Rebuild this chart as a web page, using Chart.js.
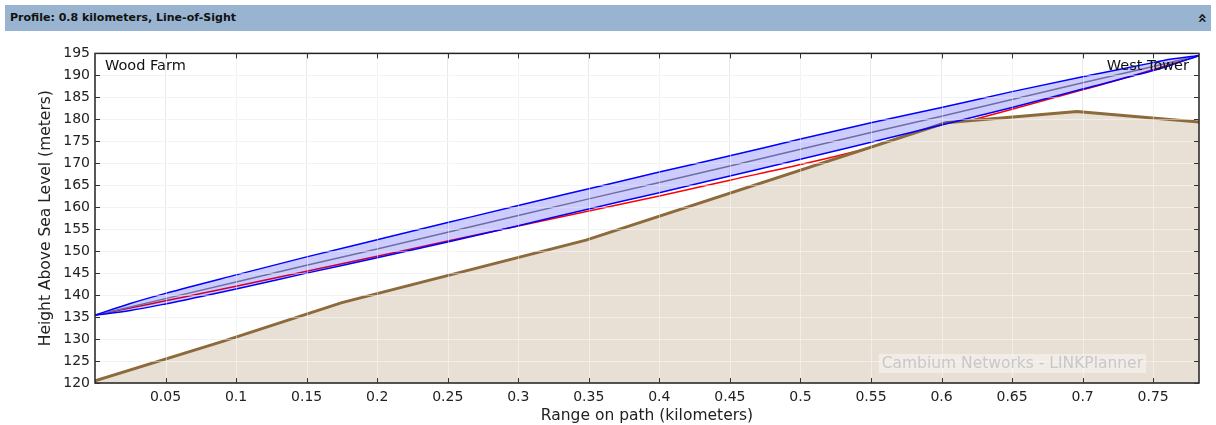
<!DOCTYPE html>
<html>
<head>
<meta charset="utf-8">
<script src="https://cdn.jsdelivr.net/npm/chart.js@4.4.1/dist/chart.umd.min.js"></script>
<style>
  html, body { margin: 0; padding: 0; background: #fff; }
  body { width: 1216px; height: 425px; position: relative; overflow: hidden; font-family: "DejaVu Sans", sans-serif; }
  #header {
    position: absolute; left: 5px; top: 5px; width: 1206px; height: 26px;
    background: #98b4d0; color: #111;
    font: bold 11px "DejaVu Sans", sans-serif; line-height: 26px;
  }
  #header .title { position: absolute; left: 5px; top: 0; }
  #header .toggle { position: absolute; right: 4px; top: 0; font-size: 16px; transform: rotate(-90deg); }
  #wrap { position: absolute; left: 0; top: 40px; width: 1216px; height: 385px; }
</style>
</head>
<body>
<div id="header"><span class="title">Profile: 0.8 kilometers, Line-of-Sight</span><span class="toggle">»</span></div>
<div id="wrap"><canvas id="profile"></canvas></div>
<script>
// range along the path (km) shared by the LOS / fresnel / curvature series
const distances = [0, 0.025, 0.05, 0.1, 0.15, 0.2, 0.25, 0.3, 0.35, 0.4, 0.45, 0.5, 0.55, 0.6, 0.65, 0.7, 0.75, 0.7575, 0.7825];
const lineOfSight = [135.45, 137.3, 139.2, 143.0, 146.8, 150.5, 154.3, 158.1, 161.9, 165.6, 169.4, 173.2, 177.0, 180.7, 184.5, 188.3, 192.0, 192.6, 194.5];
const fresnelUpper = [135.45, 138.1, 140.4, 144.6, 148.7, 152.6, 156.5, 160.4, 164.2, 168.0, 171.7, 175.5, 179.2, 182.7, 186.3, 189.7, 192.9, 193.4, 194.5];
const fresnelLower = [135.45, 136.5, 138.0, 141.4, 145.0, 148.5, 152.1, 155.8, 159.6, 163.3, 167.1, 170.9, 174.8, 178.7, 182.7, 186.9, 191.1, 191.8, 194.5];
const curvedPath = [135.45, 137.05, 138.7, 142.0, 145.45, 148.85, 152.3, 155.7, 159.15, 162.55, 166.15, 169.7, 173.6, 178.0, 182.3, 186.7, 191.3, 192.05, 194.5];

// terrain profile
const terrainRange = [0, 0.09, 0.175, 0.348, 0.603, 0.696, 0.7825];
const terrainHeight = [120.5, 129.4, 138.3, 152.5, 179.2, 181.8, 179.4];

const xTickValues = [0.05, 0.1, 0.15, 0.2, 0.25, 0.3, 0.35, 0.4, 0.45, 0.5, 0.55, 0.6, 0.65, 0.7, 0.75];
const yMin = 120, yMax = 195, yStep = 5;
const pathLength = 0.7825;

const endLabels = ['Wood Farm', 'West Tower'];
const watermark = 'Cambium Networks - LINKPlanner';

function pts(xs, ys) {
    return xs.map((x, i) => ({ x: x, y: ys[i] }));
}

// light grid over the fills, inward ticks, frame and texts
const decorations = {
    id: 'decorations',
    afterDatasetsDraw(chart) {
        const { ctx, chartArea: a, scales: { x, y } } = chart;
        ctx.save();
        ctx.strokeStyle = 'rgba(255,255,255,0.45)';
        ctx.lineWidth = 1;
        ctx.beginPath();
        xTickValues.forEach(v => {
            const px = Math.round(x.getPixelForValue(v)) + 0.5;
            ctx.moveTo(px, a.top); ctx.lineTo(px, a.bottom);
        });
        y.ticks.forEach(t => {
            const py = Math.round(y.getPixelForValue(t.value)) + 0.5;
            ctx.moveTo(a.left, py); ctx.lineTo(a.right, py);
        });
        ctx.stroke();

        // watermark
        ctx.font = '15.5px "DejaVu Sans"';
        const w = ctx.measureText(watermark).width;
        const bx = a.right - 56 - w, by = a.bottom - 29;
        ctx.fillStyle = 'rgba(255,255,255,0.4)';
        ctx.fillRect(bx - 3, by, w + 6, 19);
        ctx.fillStyle = '#c8c8c8';
        ctx.textBaseline = 'middle';
        ctx.textAlign = 'left';
        ctx.fillText(watermark, bx, by + 10);

        // frame
        ctx.strokeStyle = '#222';
        ctx.lineWidth = 1.5;
        ctx.strokeRect(a.left, a.top, a.right - a.left, a.bottom - a.top);

        // inward tick marks
        ctx.lineWidth = 1;
        ctx.strokeStyle = '#333';
        ctx.beginPath();
        xTickValues.forEach(v => {
            const px = Math.round(x.getPixelForValue(v)) + 0.5;
            ctx.moveTo(px, a.bottom); ctx.lineTo(px, a.bottom - 5);
            ctx.moveTo(px, a.top); ctx.lineTo(px, a.top + 5);
        });
        y.ticks.forEach(t => {
            const py = Math.round(y.getPixelForValue(t.value)) + 0.5;
            ctx.moveTo(a.left, py); ctx.lineTo(a.left + 5, py);
            ctx.moveTo(a.right, py); ctx.lineTo(a.right - 5, py);
        });
        ctx.stroke();

        // site names
        ctx.fillStyle = '#111';
        ctx.font = '14.5px "DejaVu Sans"';
        ctx.textBaseline = 'middle';
        ctx.textAlign = 'left';
        ctx.fillText(endLabels[0], a.left + 10, a.top + 13);
        ctx.textAlign = 'right';
        ctx.fillText(endLabels[1], a.right - 10, a.top + 13);
        ctx.restore();
    }
};

new Chart(document.getElementById('profile'), {
    type: 'line',
    data: {
        datasets: [
            {
                label: 'Fresnel upper',
                data: pts(distances, fresnelUpper),
                borderColor: '#0000ff',
                borderWidth: 1.5,
                backgroundColor: 'rgba(0,0,255,0.2)',
                fill: '+1',
                cubicInterpolationMode: 'monotone',
                pointRadius: 0
            },
            {
                label: 'Fresnel lower',
                data: pts(distances, fresnelLower),
                borderColor: '#0000ff',
                borderWidth: 1.5,
                fill: false,
                cubicInterpolationMode: 'monotone',
                pointRadius: 0
            },
            {
                label: 'Line of sight',
                data: pts(distances, lineOfSight),
                borderColor: '#8a8a8a',
                borderWidth: 1.5,
                fill: false,
                pointRadius: 0
            },
            {
                label: 'Terrain',
                data: pts(terrainRange, terrainHeight),
                borderColor: '#8d6a3c',
                borderWidth: 3,
                backgroundColor: '#e8dfd5',
                fill: 'start',
                tension: 0,
                pointRadius: 0
            },
            {
                label: 'Curved path',
                data: pts(distances, curvedPath),
                borderColor: '#ff0000',
                borderWidth: 1.5,
                fill: false,
                cubicInterpolationMode: 'monotone',
                pointRadius: 0
            }
        ]
    },
    options: {
        responsive: true,
        maintainAspectRatio: false,
        animation: false,
        layout: { padding: { top: 13, right: 17, left: 0, bottom: 0 } },
        plugins: {
            legend: { display: false },
            tooltip: { enabled: false }
        },
        scales: {
            x: {
                type: 'linear',
                min: 0,
                max: pathLength,
                afterBuildTicks: scale => { scale.ticks = xTickValues.map(v => ({ value: v })); },
                afterFit: scale => { scale.height = 42; },
                border: { display: false },
                grid: { color: '#e9e9e9', drawTicks: false },
                ticks: {
                    padding: 6,
                    color: '#222',
                    font: { family: 'DejaVu Sans', size: 14 },
                    maxRotation: 0,
                    autoSkip: false,
                    callback: v => String(Number(v.toFixed(3)))
                },
                title: {
                    display: true,
                    text: 'Range on path (kilometers)',
                    color: '#222',
                    font: { family: 'DejaVu Sans', size: 15.5 },
                    padding: { top: 0, bottom: 0 }
                }
            },
            y: {
                min: yMin,
                max: yMax,
                afterFit: scale => { scale.width = 95; },
                border: { display: false },
                grid: { color: '#e9e9e9', drawTicks: false },
                ticks: {
                    stepSize: yStep,
                    padding: 5,
                    color: '#222',
                    font: { family: 'DejaVu Sans', size: 14 }
                },
                title: {
                    display: true,
                    text: 'Height Above Sea Level (meters)',
                    color: '#222',
                    font: { family: 'DejaVu Sans', size: 15.5 },
                    padding: { top: 37, bottom: 0 }
                }
            }
        }
    },
    plugins: [decorations]
});
</script>
</body>
</html>
